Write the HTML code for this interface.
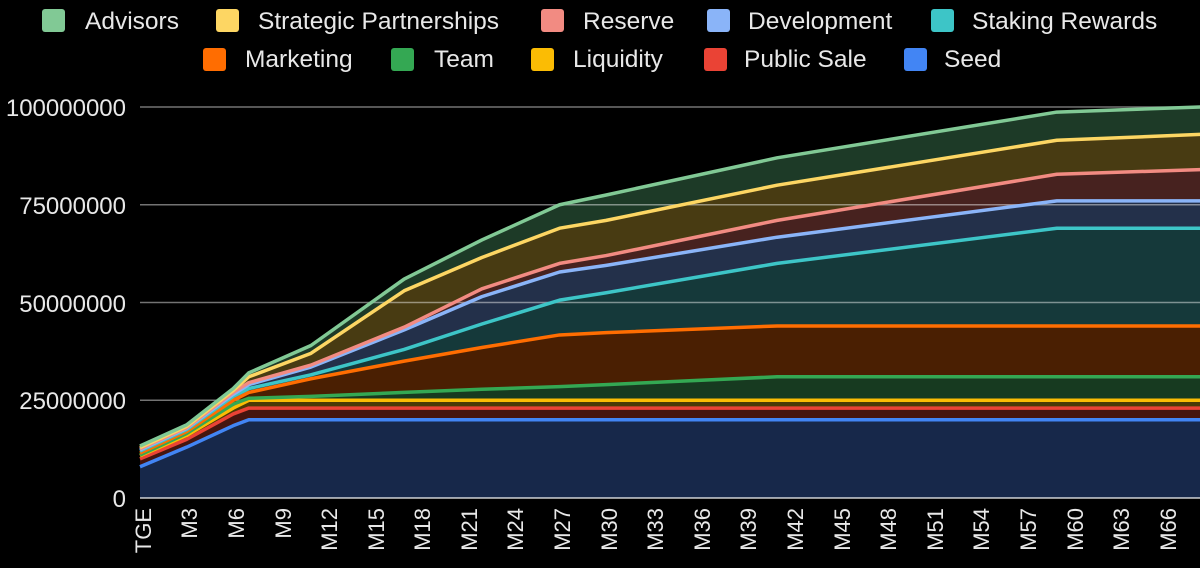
<!DOCTYPE html>
<html><head><meta charset="utf-8"><style>
html,body{margin:0;padding:0;background:#000;width:1200px;height:568px;overflow:hidden}
svg text{font-family:"Liberation Sans",sans-serif;fill:#e8e8e8}
</style></head><body>
<svg width="1200" height="568" viewBox="0 0 1200 568" xmlns="http://www.w3.org/2000/svg">
<g font-size="24.5">
<rect x="42" y="9" width="23" height="23" rx="3" fill="#81c995"/><text x="85" y="29">Advisors</text>
<rect x="216" y="9" width="23" height="23" rx="3" fill="#fdd663"/><text x="258" y="29">Strategic Partnerships</text>
<rect x="541" y="9" width="23" height="23" rx="3" fill="#f28b82"/><text x="583" y="29">Reserve</text>
<rect x="707" y="9" width="23" height="23" rx="3" fill="#8ab4f8"/><text x="748" y="29">Development</text>
<rect x="931" y="9" width="23" height="23" rx="3" fill="#3dc5c7"/><text x="972" y="29">Staking Rewards</text>
<rect x="203" y="48" width="23" height="23" rx="3" fill="#ff6d01"/><text x="245" y="67">Marketing</text>
<rect x="391" y="48" width="23" height="23" rx="3" fill="#34a853"/><text x="434" y="67">Team</text>
<rect x="531" y="48" width="23" height="23" rx="3" fill="#fbbc04"/><text x="573" y="67">Liquidity</text>
<rect x="704" y="48" width="23" height="23" rx="3" fill="#ea4335"/><text x="744" y="67">Public Sale</text>
<rect x="904" y="48" width="23" height="23" rx="3" fill="#4285f4"/><text x="944" y="67">Seed</text>
</g>
<g font-size="24" text-anchor="end">
<text x="126" y="116">100000000</text>
<text x="126" y="214">75000000</text>
<text x="126" y="312">50000000</text>
<text x="126" y="409">25000000</text>
<text x="126" y="507">0</text>
</g>
<g transform="translate(140,498) scale(15.54,-3.91)">
<g>
<polygon fill="#1d3a27" points="0,0 0,13.3 3,18.7 6,28 7,32 11,39 17,56 22,66 27,75 30,77.5 41,87 59,98.7 68.3,100 68.3,0"/>
<polygon fill="#483b12" points="0,0 0,12.9 3,18.3 6,27.5 7,31 11,37 17,53 22,61.5 27,69 30,71 41,80 59,91.5 68.3,93 68.3,0"/>
<polygon fill="#47221f" points="0,0 0,12.6 3,18 6,27 7,29.5 11,34 17,43.7 22,53.5 27,60 30,62 41,71 59,82.8 68.3,84 68.3,0"/>
<polygon fill="#23304a" points="0,0 0,12.3 3,17.8 6,26.5 7,29 11,33.5 17,43 22,51.5 27,57.8 30,59.5 41,66.7 59,76 68.3,76 68.3,0"/>
<polygon fill="#15393a" points="0,0 0,12 3,17.5 6,26 7,28 11,31.5 17,38 22,44.5 27,50.6 30,52.5 41,60 59,69 68.3,69 68.3,0"/>
<polygon fill="#4a1f02" points="0,0 0,11.5 3,17 6,25 7,27 11,30.5 17,35 22,38.5 27,41.7 30,42.3 41,44 59,44 68.3,44 68.3,0"/>
<polygon fill="#173a20" points="0,0 0,11 3,16.5 6,24 7,25.5 11,26 17,27 22,27.8 27,28.5 30,29 41,31 68.3,31 68.3,0"/>
<polygon fill="#4a3a06" points="0,0 0,10.8 3,16 6,23 7,25 68.3,25 68.3,0"/>
<polygon fill="#45150f" points="0,0 0,10 3,15 6,21.5 7,23 68.3,23 68.3,0"/>
<polygon fill="#17284a" points="0,0 0,8 3,13 6,18.5 7,20 68.3,20 68.3,0"/>
</g>
<g stroke="#ffffff" stroke-opacity="0.45" stroke-width="1.5">
<line x1="0" x2="68.3" y1="25" y2="25" vector-effect="non-scaling-stroke"/>
<line x1="0" x2="68.3" y1="50" y2="50" vector-effect="non-scaling-stroke"/>
<line x1="0" x2="68.3" y1="75" y2="75" vector-effect="non-scaling-stroke"/>
<line x1="0" x2="68.3" y1="100" y2="100" vector-effect="non-scaling-stroke"/>
<line x1="0" x2="68.3" y1="0" y2="0" stroke-opacity="0.8" vector-effect="non-scaling-stroke"/>
</g>
<g fill="none" stroke-width="3.5" stroke-linejoin="round">
<polyline vector-effect="non-scaling-stroke" stroke="#4285f4" points="0,8 3,13 6,18.5 7,20 68.3,20"/>
<polyline vector-effect="non-scaling-stroke" stroke="#ea4335" points="0,10 3,15 6,21.5 7,23 68.3,23"/>
<polyline vector-effect="non-scaling-stroke" stroke="#fbbc04" points="0,10.8 3,16 6,23 7,25 68.3,25"/>
<polyline vector-effect="non-scaling-stroke" stroke="#34a853" points="0,11 3,16.5 6,24 7,25.5 11,26 17,27 22,27.8 27,28.5 30,29 41,31 68.3,31"/>
<polyline vector-effect="non-scaling-stroke" stroke="#ff6d01" points="0,11.5 3,17 6,25 7,27 11,30.5 17,35 22,38.5 27,41.7 30,42.3 41,44 59,44 68.3,44"/>
<polyline vector-effect="non-scaling-stroke" stroke="#3dc5c7" points="0,12 3,17.5 6,26 7,28 11,31.5 17,38 22,44.5 27,50.6 30,52.5 41,60 59,69 68.3,69"/>
<polyline vector-effect="non-scaling-stroke" stroke="#8ab4f8" points="0,12.3 3,17.8 6,26.5 7,29 11,33.5 17,43 22,51.5 27,57.8 30,59.5 41,66.7 59,76 68.3,76"/>
<polyline vector-effect="non-scaling-stroke" stroke="#f28b82" points="0,12.6 3,18 6,27 7,29.5 11,34 17,43.7 22,53.5 27,60 30,62 41,71 59,82.8 68.3,84"/>
<polyline vector-effect="non-scaling-stroke" stroke="#fdd663" points="0,12.9 3,18.3 6,27.5 7,31 11,37 17,53 22,61.5 27,69 30,71 41,80 59,91.5 68.3,93"/>
<polyline vector-effect="non-scaling-stroke" stroke="#81c995" points="0,13.3 3,18.7 6,28 7,32 11,39 17,56 22,66 27,75 30,77.5 41,87 59,98.7 68.3,100"/>
</g>
</g>
<g font-size="22" text-anchor="end">
<text transform="translate(151,508) rotate(-90)">TGE</text>
<text transform="translate(197,508) rotate(-90)">M3</text>
<text transform="translate(244,508) rotate(-90)">M6</text>
<text transform="translate(291,508) rotate(-90)">M9</text>
<text transform="translate(337,508) rotate(-90)">M12</text>
<text transform="translate(384,508) rotate(-90)">M15</text>
<text transform="translate(430,508) rotate(-90)">M18</text>
<text transform="translate(477,508) rotate(-90)">M21</text>
<text transform="translate(523,508) rotate(-90)">M24</text>
<text transform="translate(570,508) rotate(-90)">M27</text>
<text transform="translate(617,508) rotate(-90)">M30</text>
<text transform="translate(663,508) rotate(-90)">M33</text>
<text transform="translate(710,508) rotate(-90)">M36</text>
<text transform="translate(756,508) rotate(-90)">M39</text>
<text transform="translate(803,508) rotate(-90)">M42</text>
<text transform="translate(850,508) rotate(-90)">M45</text>
<text transform="translate(896,508) rotate(-90)">M48</text>
<text transform="translate(943,508) rotate(-90)">M51</text>
<text transform="translate(989,508) rotate(-90)">M54</text>
<text transform="translate(1036,508) rotate(-90)">M57</text>
<text transform="translate(1083,508) rotate(-90)">M60</text>
<text transform="translate(1129,508) rotate(-90)">M63</text>
<text transform="translate(1176,508) rotate(-90)">M66</text>
</g>
</svg>
</body></html>
